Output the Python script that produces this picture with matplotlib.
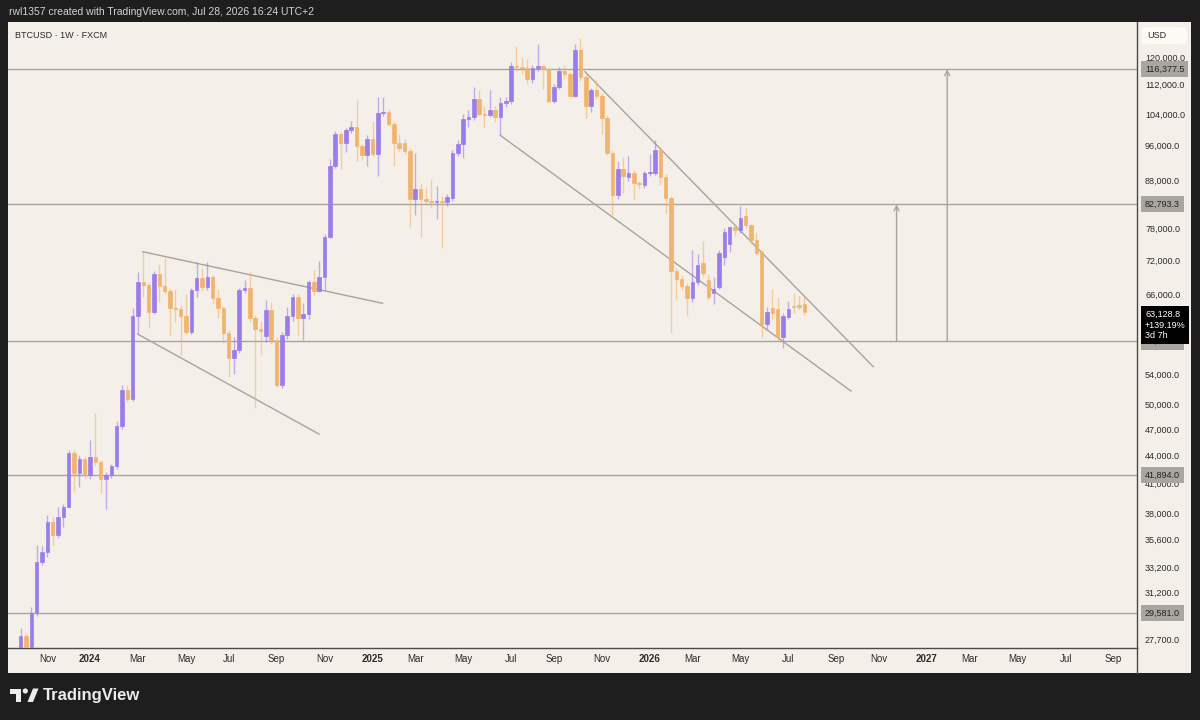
import numpy as np
import pandas as pd
import matplotlib
matplotlib.use("Agg")
import matplotlib.pyplot as plt
from matplotlib.patches import Rectangle, Polygon, Circle, FancyBboxPatch
from matplotlib.ticker import NullLocator

# BTCUSD 1W (FXCM) weekly candles
first_week = "2023-10-02"

opens = [27000, 27920, 27150, 29580, 33640, 34500, 37210, 36000, 37680, 38640,
         44260, 42090, 43600, 41880, 43820, 43270, 41460, 41880, 42840, 47380,
         51880, 50710, 62490, 68090, 67550, 63200, 69470, 67420, 66580, 63800,
         63640, 62530, 60080, 66750, 68790, 67250, 68960, 65420, 63800, 59930,
         56230, 57380, 66750, 67080, 62220, 60530, 59500, 63440, 58830, 52530,
         59570, 62490, 65580, 62220, 62840, 68090, 66580, 68960, 76230, 91300,
         98900, 96700, 99900, 100660, 95980, 93840, 97680, 94080, 104300, 104600,
         101440, 96700, 96700, 94790, 83840, 85970, 83840, 83600, 83210, 83600,
         83210, 84050, 94310, 96460, 102720, 103240, 108000, 104000, 103700, 104900,
         103240, 106900, 107400, 117300, 117000, 116700, 113500, 116700, 117200, 116400,
         107400, 111300, 115800, 115000, 108800, 122100, 114100, 106200, 110400, 108800,
         102980, 94310, 84680, 90620, 88600, 89710, 87280, 86840, 89490, 89710,
         95030, 88600, 84050, 70010, 68610, 67420, 65420, 68100, 71430, 68500,
         66240, 67250, 72500, 75000, 78170, 77580, 80340, 78560, 75660, 73420,
         61290, 63800, 63640, 59330, 62370, 64120, 64280, 64440]

highs = [28490, 28100, 30030, 35150, 35000, 37900, 37700, 38640, 38900, 44600,
         44600, 44000, 43800, 45730, 48960, 43500, 42200, 43100, 48000, 52500,
         52600, 63800, 69810, 73430, 68000, 70000, 71240, 72300, 67000, 66900,
         64200, 66100, 67000, 71610, 70500, 71610, 69300, 66900, 64100, 60300,
         59330, 67100, 68500, 69800, 62600, 61800, 65000, 64800, 59300, 60000,
         64000, 66000, 66000, 64600, 68500, 70200, 71800, 76800, 92900, 99700,
         99300, 100400, 102200, 107700, 96500, 98500, 102200, 108500, 108500, 105400,
         102200, 98900, 97700, 95500, 94300, 87300, 86500, 88300, 86800, 84500,
         85000, 95000, 97400, 104000, 104900, 111200, 110400, 106000, 110400, 106000,
         108600, 108600, 118600, 123400, 120000, 119400, 117500, 124000, 117500, 117000,
         112000, 117000, 117700, 115500, 123900, 125900, 115000, 111000, 113200, 109500,
         103700, 95000, 92400, 93300, 93600, 90300, 87900, 90000, 94100, 97400,
         95700, 89400, 84500, 70500, 69300, 68000, 73800, 73000, 75550, 69500,
         69000, 73800, 78000, 78500, 78800, 82380, 82000, 78800, 77000, 73800,
         64000, 66950, 65500, 63000, 64900, 66300, 65800, 65700]

lows = [26600, 26600, 26900, 29400, 33400, 34100, 35100, 35700, 36700, 38500,
        40150, 40600, 41560, 41500, 42800, 40000, 38450, 41600, 42500, 47000,
        50300, 50500, 59880, 65600, 60640, 62800, 64800, 66000, 59630, 61600,
        56700, 59800, 59700, 65600, 66500, 66800, 64400, 62200, 58440, 53670,
        54000, 57000, 66300, 61500, 49580, 56700, 58500, 58300, 52300, 52200,
        59000, 61800, 59600, 58900, 62000, 65900, 66400, 66800, 76000, 90700,
        90400, 94400, 99000, 92300, 92500, 91300, 93500, 89040, 103500, 100800,
        91300, 94500, 94000, 78170, 80700, 76200, 82800, 82000, 79900, 74200,
        82500, 83500, 93500, 93000, 100500, 102500, 103500, 100700, 103200, 101900,
        98520, 105800, 106500, 115800, 115000, 112000, 112300, 115800, 110700, 107000,
        106900, 110700, 113600, 108300, 108500, 113000, 102980, 104500, 108000, 98800,
        93800, 80540, 83900, 85300, 87900, 84000, 86000, 86300, 89000, 89200,
        87000, 80950, 59900, 65000, 66800, 62520, 64800, 67600, 69000, 65000,
        64400, 66900, 71000, 73500, 76500, 77000, 78000, 75000, 72800, 59180,
        60500, 62000, 58800, 57700, 62000, 63000, 63500, 62700]

closes = [27920, 27150, 29580, 33640, 34500, 37210, 36000, 37680, 38640, 44260,
          42090, 43600, 41880, 43820, 43270, 41460, 41880, 42840, 47380, 51880,
          50710, 62490, 68090, 67550, 63200, 69470, 67420, 66580, 63800, 63640,
          62530, 60080, 66750, 68790, 67250, 68960, 65420, 63800, 59930, 56230,
          57380, 66750, 67080, 62220, 60530, 60230, 63440, 58830, 52530, 59570,
          62490, 65580, 62220, 62840, 68090, 66580, 68960, 76230, 91300, 98900,
          96700, 99900, 100660, 95980, 93840, 97680, 94080, 104300, 104600, 101440,
          96700, 95500, 94790, 83840, 85970, 83840, 83600, 83210, 83600, 83210,
          84260, 94310, 96460, 102720, 103240, 108000, 104000, 103700, 104900, 103240,
          106900, 107400, 117300, 117000, 116700, 113500, 116700, 117200, 116400, 107400,
          111300, 115800, 115000, 108800, 122100, 114100, 106200, 110400, 108800, 102980,
          94310, 84680, 90620, 88820, 89710, 87280, 87060, 89490, 89940, 95030,
          88600, 84050, 70010, 68610, 67420, 65420, 68100, 71070, 69660, 65580,
          66910, 73240, 77190, 78170, 77580, 79940, 78560, 75660, 73240, 61290,
          63160, 63000, 59330, 62530, 63640, 63960, 63960, 63128.8]

last_price_text = "63,128.8\n+139.19%\n3d 7h"

# horizontal levels drawn on the chart
level_prices = [116377.5, 82793.3, 58620.0, 41894.0, 29581.0]

price_ticks = [120000, 112000, 104000, 96000, 88000, 78000, 72000, 66000, 58000,
               54000, 50000, 47000, 44000, 41000, 38000, 35600, 33200, 31200, 27700]

# trendlines as (bar index, price) pairs
wedge_upper = ([22.9, 67.9], [73490, 64530])
wedge_lower = ([21.95, 55.96], [59720, 46430])
channel_upper = ([105.85, 159.93], [115630, 55010])
channel_lower = ([89.96, 155.75], [98520, 51740])
# measured-move arrows: bar index, base price, target price
arrow_bars = [164.3, 173.8]
arrow_base = [58620.0, 58620.0]
arrow_targets = [82793.3, 116377.5]

W, H = 1200, 720
DARK = "#1e1e1e"
PANEL = "#f4f0e9"
UP = "#9a7de8"
DOWN = "#f2b46c"
LINE = "#a7a39d"
TXT = "#2b2b2b"
X_RANGE = (-2.38, 209.4)
Y_RANGE = (27090, 131060)

plt.rcParams['font.family'] = ['Liberation Sans', 'DejaVu Sans']


def fx(x):
    return x / W


def fy(y):
    return 1 - y / H


fig = plt.figure(figsize=(12, 7.2), dpi=100, facecolor=DARK)

# cream chart panel incl. price + time scales (behind the axes)
fig.patches.append(Rectangle((fx(8), fy(673)), fx(1191) - fx(8), fy(22) - fy(673),
                             transform=fig.transFigure, facecolor=PANEL,
                             edgecolor='none', zorder=-5))

ax = fig.add_axes([fx(8), fy(648), fx(1137) - fx(8), fy(22) - fy(648)])
ax.set_zorder(1)
ax.set_facecolor(PANEL)
ax.set_yscale('log')

o = np.array(opens, dtype=float)
h = np.array(highs, dtype=float)
l = np.array(lows, dtype=float)
c = np.array(closes, dtype=float)
x = np.arange(len(o))
up = c >= o
cols = np.where(up, UP, DOWN)

ax.vlines(x, l, h, colors=cols, linewidth=1, alpha=0.6, zorder=2)
ax.bar(x, np.abs(c - o), bottom=np.minimum(o, c), width=0.66, color=cols,
       edgecolor=cols, linewidth=0.5, zorder=3)

for p in level_prices:
    ax.axhline(p, color=LINE, lw=1, zorder=1)

for xs, ys in (wedge_upper, wedge_lower, channel_upper, channel_lower):
    ax.plot(xs, ys, color=LINE, lw=1, zorder=1)

for bx, b0, b1 in zip(arrow_bars, arrow_base, arrow_targets):
    ax.annotate("", xy=(bx, b1), xytext=(bx, b0),
                arrowprops=dict(arrowstyle="->", color=LINE, lw=1,
                                shrinkA=0, shrinkB=0, mutation_scale=9))

# time scale: first weekly bar of every other month
weeks = pd.date_range(first_week, periods=230, freq="W-MON")
tick_pos, tick_lab = [], []
prev = None
for i, d in enumerate(weeks):
    if (d.year, d.month) != prev:
        prev = (d.year, d.month)
        if d.month % 2 == 1 and X_RANGE[0] < i < X_RANGE[1] - 1:
            tick_pos.append(i)
            tick_lab.append(str(d.year) if d.month == 1 else d.strftime("%b"))
ax.set_xticks(tick_pos, tick_lab)
ax.tick_params(axis='x', length=0, pad=4.5, labelsize=7, colors=TXT)
for t in ax.get_xticklabels():
    if t.get_text().isdigit():
        t.set_fontweight('bold')

# price scale on the right
ax.yaxis.tick_right()
ax.yaxis.set_minor_locator(NullLocator())
ax.set_yticks(price_ticks, [f"{v:,.1f}" for v in price_ticks])
ax.tick_params(axis='y', length=0, pad=5.8, labelsize=6.5, colors=TXT)

ax.set_xlim(*X_RANGE)
ax.set_ylim(*Y_RANGE)

for s in ('top', 'left'):
    ax.spines[s].set_visible(False)
for s in ('right', 'bottom'):
    ax.spines[s].set_color('#4a4a4a')
    ax.spines[s].set_linewidth(1)

# grey level tags on the price scale
for p in level_prices:
    ax.annotate(f"{p:,.1f}", xy=(1, p), xycoords=('axes fraction', 'data'),
                xytext=(5.8, 0), textcoords='offset points', ha='left', va='center',
                fontsize=6.5, color='#222222', annotation_clip=False, zorder=6,
                bbox=dict(boxstyle='square,pad=0.4', fc='#a9a6a1', ec='none'))

# last price tag
ax.annotate(last_price_text, xy=(1, closes[-1]), xycoords=('axes fraction', 'data'),
            xytext=(5.8, 1.5), textcoords='offset points', ha='left', va='top',
            fontsize=6.5, color='white', linespacing=1.25, annotation_clip=False,
            zorder=8, bbox=dict(boxstyle='square,pad=0.4', fc='#000000', ec='none'))

# separator of the corner box under the price scale
fig.add_artist(plt.Line2D([fx(1137), fx(1137)], [fy(648), fy(673)],
                          color='#4a4a4a', lw=1, transform=fig.transFigure))

# USD box
fig.patches.append(FancyBboxPatch((fx(1142), fy(44)), fx(1187) - fx(1142), fy(27) - fy(44),
                                  boxstyle='round,pad=0,rounding_size=0.004',
                                  transform=fig.transFigure, fc='#fbfaf7', ec='none',
                                  zorder=2))
fig.text(fx(1147), fy(35.5), "USD", fontsize=6.5, color=TXT, va='center', ha='left',
         zorder=3)

fig.text(fx(15), fy(36), "BTCUSD · 1W · FXCM", fontsize=6.5, color=TXT,
         va='center', ha='left', zorder=3)

fig.text(fx(9), fy(12), "rwl1357 created with TradingView.com, Jul 28, 2026 16:24 UTC+2",
         fontsize=7.5, color='#d4d4d4', va='center', ha='left')

# footer logo
lg = fig.add_axes([fx(8), fy(712), fx(42) - fx(8), fy(680) - fy(712)])
lg.set_xlim(8, 42)
lg.set_ylim(712, 680)
lg.axis('off')
LOGO = '#ececec'
lg.add_patch(Rectangle((10, 688.5), 11, 5, fc=LOGO, ec='none'))
lg.add_patch(Rectangle((15.5, 688.5), 5.5, 13.5, fc=LOGO, ec='none'))
lg.add_patch(Circle((25.3, 691), 2.6, fc=LOGO, ec='none'))
lg.add_patch(Polygon([(27.5, 702), (33, 688.5), (38.5, 688.5), (33, 702)], fc=LOGO, ec='none'))
fig.text(fx(43), fy(695.5), "TradingView", fontsize=12, fontweight='bold',
         color=LOGO, va='center', ha='left')

fig.savefig("out.png", dpi=100, facecolor=DARK)
